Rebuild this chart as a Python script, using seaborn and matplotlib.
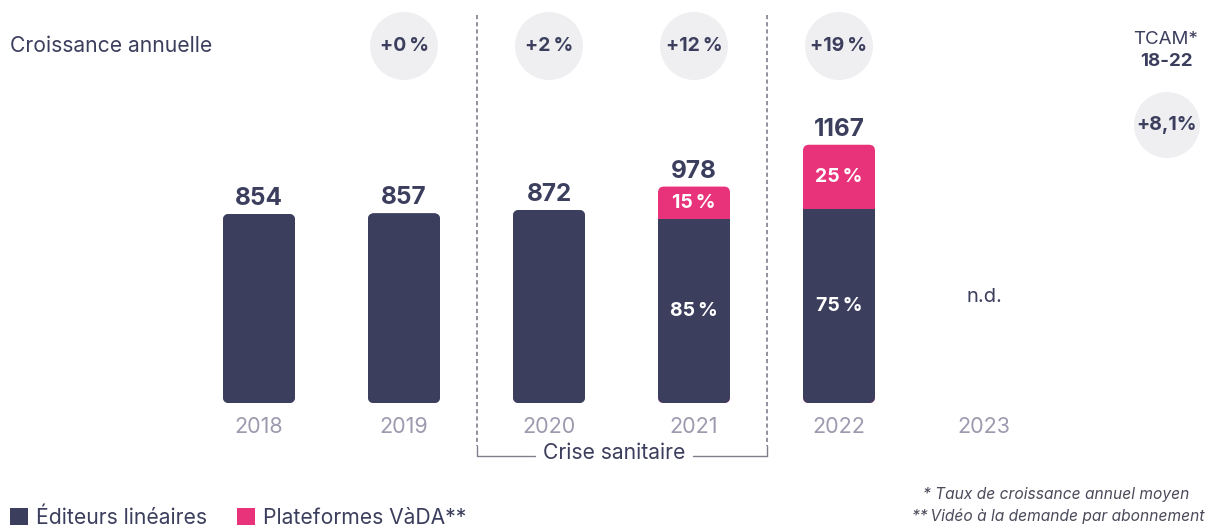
import numpy as np
import pandas as pd
import matplotlib
matplotlib.use("Agg")
import matplotlib.pyplot as plt
import seaborn as sns
from matplotlib.patches import FancyBboxPatch, Patch

# ---------------- data ----------------
years = ["2018", "2019", "2020", "2021", "2022", "2023"]
totals = [854, 857, 872, 978, 1167, np.nan]
share_linear = [100, 100, 100, 85, 75, np.nan]
share_vada = [0, 0, 0, 15, 25, np.nan]
growth = [None, "+0\u2009%", "+2\u2009%", "+12\u2009%", "+19\u2009%", None]
tcam_label = "+8,1%"
nd_label = "n.d."
legend_labels = ["Éditeurs linéaires", "Plateformes VàDA**"]
footnotes = ["* Taux de croissance annuel moyen",
             "**\u2009Vidéo à la demande par abonnement"]

# ---------------- style ----------------
DARK = "#3c3e5d"
PINK = "#e8337a"
CIRCLE = "#efeff2"
YEARC = "#9c9aae"
LINEC = "#7f7f8e"

sns.set_theme(style="white")
plt.rcParams['font.family'] = ['Inter', 'DejaVu Sans']

W, H = 1206, 526
fig = plt.figure(figsize=(W / 100, H / 100), dpi=100)
ax = fig.add_axes([0, 0, 1, 1])

# pixel -> data helpers (layout only)
X0, XS = 259.0, 145.0       # px of first category, px per category
Y0, YS = 403.0, 0.2213      # px of baseline, px per unit
def dx(px):
    return (px - X0) / XS
def dy(py):
    return (Y0 - py) / YS

df = pd.DataFrame({
    "year": years,
    "total": totals,
    "linear": [t * s / 100 if not np.isnan(t) else np.nan for t, s in zip(totals, share_linear)],
})

bar_w = 72 / XS

# total bars (full height), later rounded
sns.barplot(data=df, x="year", y="total", order=years, color=PINK,
            saturation=1, width=bar_w, linewidth=0, ax=ax)
total_patches = list(ax.patches)
rounded = {}
rs = 6 / XS
aspect = XS / YS
for p in total_patches:
    h = p.get_height()
    x = p.get_x()
    w = p.get_width()
    p.remove()
    if h is None or np.isnan(h) or h == 0:
        continue
    i = int(round(x + w / 2))
    fc = PINK if share_vada[i] > 0 else DARK
    fb = FancyBboxPatch((x, 0), w, h,
                        boxstyle=f"round,pad=0,rounding_size={rs}",
                        mutation_aspect=aspect, facecolor=fc,
                        edgecolor="none", linewidth=0, zorder=2)
    ax.add_patch(fb)
    rounded[i] = fb

# linear bars, clipped to the rounded shape
before = set(ax.patches)
sns.barplot(data=df, x="year", y="linear", order=years, color=DARK,
            saturation=1, width=bar_w, linewidth=0, ax=ax)
for p in list(ax.patches):
    if p in before:
        continue
    h = p.get_height()
    if h is None or np.isnan(h) or h == 0:
        p.remove()
        continue
    i = int(round(p.get_x() + p.get_width() / 2))
    p.set_zorder(3)
    p.set_clip_path(rounded[i])

ax.set_xlim(dx(0), dx(W))
ax.set_ylim(dy(H), dy(0))
ax.axis("off")

# value labels
for i, t in enumerate(totals):
    if np.isnan(t):
        ax.text(i, dy(297), nd_label, ha="center", va="center",
                fontsize=14.5, color=DARK)
        continue
    ax.annotate(f"{int(t)}", (i, t), xytext=(0, 6.5), textcoords="offset points",
                ha="center", va="baseline", fontsize=17.5, fontweight="bold",
                color=DARK, zorder=5)
    if share_vada[i] > 0:
        lin = t * share_linear[i] / 100
        ax.text(i, (lin + t) / 2, f"{share_vada[i]}\u2009%", ha="center",
                va="center", fontsize=14, fontweight="bold", color="white", zorder=5)
        ax.text(i, lin / 2, f"{share_linear[i]}\u2009%",
                ha="center", va="center", fontsize=14, fontweight="bold",
                color="white", zorder=5)

# year labels
for i, y in enumerate(years):
    ax.text(i, dy(427), y, ha="center", va="center", fontsize=15.5, color=YEARC)

# growth circles
gy = dy(46)
circ_s = (68 * 0.72) ** 2
for i, g in enumerate(growth):
    if g is None:
        continue
    ax.scatter([i], [gy], s=circ_s, color=CIRCLE, edgecolors="none", zorder=1)
    ax.text(i, gy, g, ha="center", va="center", fontsize=14,
            fontweight="bold", color=DARK, zorder=5)
ax.text(dx(10), gy, "Croissance annuelle", ha="left", va="center",
        fontsize=15.2, color=DARK)

# TCAM
tx = dx(1166)
ax.text(tx, dy(40), "TCAM*", ha="center", va="center", fontsize=13.5, color=DARK)
ax.text(tx, dy(61), "18-22", ha="center", va="center", fontsize=13.5,
        fontweight="bold", color=DARK)
ax.scatter([dx(1167)], [dy(125)], s=(66 * 0.72) ** 2, color=CIRCLE,
           edgecolors="none", zorder=1)
ax.text(dx(1167), dy(125), tcam_label, ha="center", va="center", fontsize=14,
        fontweight="bold", color=DARK, zorder=5)

# crisis separators
for xl in (1.5, 3.5):
    ax.plot([xl, xl], [dy(15), dy(446)], color=LINEC, lw=1.2,
            ls=(0, (2.5, 1.8)), zorder=1)
    ax.plot([xl, xl], [dy(446), dy(456)], color=LINEC, lw=1.0, zorder=1)
ax.plot([1.5, dx(535)], [dy(456), dy(456)], color=LINEC, lw=1.0)
ax.plot([dx(693), 3.5], [dy(456), dy(456)], color=LINEC, lw=1.0)
ax.text(dx(614.5), dy(453), "Crise sanitaire", ha="center", va="center",
        fontsize=15.2, color=DARK)

# legend
handles = [Patch(facecolor=DARK, edgecolor="none"),
           Patch(facecolor=PINK, edgecolor="none")]
fig.legend(handles, legend_labels, loc="lower left", bbox_to_anchor=(0.008, -0.004),
           ncol=2, frameon=False, fontsize=15.2, handlelength=0.85,
           handleheight=0.85, handletextpad=0.4, columnspacing=1.4,
           borderaxespad=0, borderpad=0, labelcolor=DARK)

# footnotes
ax.text(dx(1189), dy(494), footnotes[0], ha="right", va="center",
        fontsize=11.2, style="italic", color="#4a4a5a")
ax.text(dx(1204), dy(516), footnotes[1], ha="right", va="center",
        fontsize=11.2, style="italic", color="#4a4a5a")

fig.savefig("out.png", dpi=100)
